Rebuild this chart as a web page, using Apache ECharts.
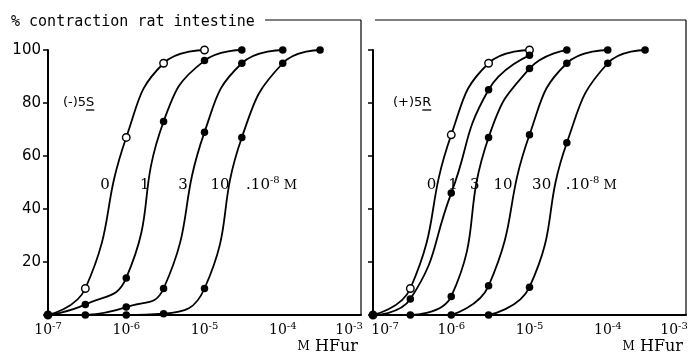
<!DOCTYPE html>
<html><head><meta charset="utf-8">
<script src="https://cdn.jsdelivr.net/npm/echarts@6/dist/echarts.min.js"></script>
<style>html,body{margin:0;padding:0;background:#fff}#c{width:688px;height:357px}</style>
</head><body><div id="c"></div>
<script>
// ---- Data: % contraction of rat intestine vs molar HFur concentration ----
// Left panel: (-)5S, antagonist concentrations 0, 1, 3, 10 x 10^-8 M
const leftConc0  = [1e-7, 3e-7, 1e-6, 3e-6, 1e-5];
const leftResp0  = [0, 10, 67, 95, 100];
const leftConc1  = [1e-7, 3e-7, 1e-6, 3e-6, 1e-5, 3e-5];
const leftResp1  = [0, 4, 14, 73, 96, 100];
const leftConc3  = [3e-7, 1e-6, 3e-6, 1e-5, 3e-5, 1e-4];
const leftResp3  = [0, 3, 10, 69, 95, 100];
const leftConc10 = [1e-6, 3e-6, 1e-5, 3e-5, 1e-4, 3e-4];
const leftResp10 = [0, 0.5, 10, 67, 95, 100];

// Right panel: (+)5R, antagonist concentrations 0, 1, 3, 10, 30 x 10^-8 M
const rightConc0  = [1e-7, 3e-7, 1e-6, 3e-6, 1e-5];
const rightResp0  = [0, 10, 68, 95, 100];
const rightConc1  = [1e-7, 3e-7, 1e-6, 3e-6, 1e-5];
const rightResp1  = [0, 6, 46, 85, 98];
const rightConc3  = [3e-7, 1e-6, 3e-6, 1e-5, 3e-5];
const rightResp3  = [0, 7, 67, 93, 100];
const rightConc10 = [1e-6, 3e-6, 1e-5, 3e-5, 1e-4];
const rightResp10 = [0, 11, 68, 95, 100];
const rightConc30 = [3e-6, 1e-5, 3e-5, 1e-4, 3e-4];
const rightResp30 = [0, 10.5, 65, 95, 100];

const leftCurveNames  = ['0', '1', '3', '10'];
const rightCurveNames = ['0', '1', '3', '10', '30'];
const yTickLabels = [20, 40, 60, 80, 100];
const titleText = '% contraction rat intestine';
const leftPanelName = ['(-)5', 'S'];   // second part underlined
const rightPanelName = ['(+)5', 'R'];

// ---- layout (not data) ----
const leftLabelAnchors  = [5.35e-7, 1.73e-6, 5.3e-6, 1.58e-5];
const rightLabelAnchors = [5.6e-7, 1.05e-6, 2.0e-6, 4.6e-6, 1.43e-5];
const leftUnitAnchor = 3.4e-5, rightUnitAnchor = 2.9e-5, labelLevel = 49;
const frameTopPx = 20;

const pairs = (xs, ys) => xs.map((x, i) => [x, ys[i]]);
const serif = 'DejaVu Serif', sans = 'DejaVu Sans', mono = 'DejaVu Sans Mono';

function curve(name, g, xs, ys, open) {
  return {
    name, type: 'line', xAxisIndex: g, yAxisIndex: g,
    data: pairs(xs, ys), smooth: 0.5,
    symbol: 'circle', symbolSize: 7.5, showAllSymbol: true,
    lineStyle: { color: '#000', width: 1.8 },
    itemStyle: open ? { color: '#fff', borderColor: '#000', borderWidth: 1.4 } : { color: '#000', borderColor: '#000', borderWidth: 0 },
    z: open ? 2 : 3, animation: false
  };
}

function xAxisFor(g, shiftMin) {
  return {
    type: 'log', logBase: 10, min: 1e-7, max: 1e-3, gridIndex: g,
    axisLine: { show: true, onZero: false, lineStyle: { color: '#000', width: 2 } },
    axisTick: { show: false }, splitLine: { show: false },
    axisLabel: {
      color: '#000', margin: 6,
      formatter: v => {
        const e = Math.round(Math.log10(v));
        if (e === -3) return '{b|10}{sr|' + e + '}';
        if (e === -7 && shiftMin) return '{bl|10}{s|' + e + '}';
        return '{b|10}{s|' + e + '}';
      },
      rich: {
        b: { fontFamily: serif, fontSize: 14, color: '#000' },
        bl: { fontFamily: serif, fontSize: 14, color: '#000', padding: [0, 0, 0, 24] },
        s: { fontFamily: serif, fontSize: 10, color: '#000', padding: [0, 0, 8, 0] },
        sr: { fontFamily: serif, fontSize: 10, color: '#000', padding: [0, 24, 8, 0] }
      }
    },
    name: '{m|M} HFur', nameLocation: 'end', nameGap: -3,
    nameTextStyle: {
      align: 'right', verticalAlign: 'top', padding: [24, 0, 0, 0],
      fontFamily: serif, fontSize: 16, color: '#000',
      rich: { m: { fontFamily: serif, fontSize: 12, color: '#000' } }
    }
  };
}
function yAxisFor(g, showLabels) {
  return {
    type: 'value', min: 0, max: 100, interval: 20, gridIndex: g,
    axisLine: { show: true, lineStyle: { color: '#000', width: 2 } },
    axisTick: { show: true, length: 5, lineStyle: { color: '#000', width: 1.5 } },
    splitLine: { show: false },
    axisLabel: {
      show: showLabels, margin: 7, color: '#000', fontFamily: sans, fontSize: 15,
      formatter: v => (yTickLabels.indexOf(v) >= 0 ? String(v) : '')
    }
  };
}

const chart = echarts.init(document.getElementById('c'), null, { renderer: 'canvas' });
const option = {
  backgroundColor: '#fff', animation: false,
  title: { text: titleText, left: 6, top: 10, textStyle: { fontFamily: mono, fontSize: 15, fontWeight: 'normal', color: '#000' } },
  grid: [
    { left: 48, top: 50, width: 313, height: 265, containLabel: false, outerBoundsMode: 'none' },
    { left: 373, top: 50, width: 313, height: 265, containLabel: false, outerBoundsMode: 'none' }
  ],
  xAxis: [xAxisFor(0, false), xAxisFor(1, true)],
  yAxis: [yAxisFor(0, true), yAxisFor(1, false)],
  series: [
    curve('L0', 0, leftConc0, leftResp0, true),
    curve('L1', 0, leftConc1, leftResp1, false),
    curve('L3', 0, leftConc3, leftResp3, false),
    curve('L10', 0, leftConc10, leftResp10, false),
    curve('R0', 1, rightConc0, rightResp0, true),
    curve('R1', 1, rightConc1, rightResp1, false),
    curve('R3', 1, rightConc3, rightResp3, false),
    curve('R10', 1, rightConc10, rightResp10, false),
    curve('R30', 1, rightConc30, rightResp30, false)
  ]
};
chart.setOption(option);

// ---- annotations placed through the axes' scales ----
const P = (g, x, y) => chart.convertToPixel({ gridIndex: g }, [x, y]);
const gfx = [];
const line = (x1, y1, x2, y2, w) => gfx.push({ type: 'line', shape: { x1, y1, x2, y2 }, style: { stroke: '#000', lineWidth: w || 1.2 } });
function txt(g, x, y, text, align, font) {
  const p = P(g, x, y);
  gfx.push({ type: 'text', x: p[0], y: p[1], style: { text, fill: '#000', font: font || ('15px "' + serif + '"'), align: align || 'center', verticalAlign: 'middle' } });
}
function unit(g, x, y) {
  const p = P(g, x, y);
  gfx.push({ type: 'text', x: p[0], y: p[1], style: {
    text: '{a|.10}{s|-8}{m| M}', align: 'left', verticalAlign: 'middle',
    rich: {
      a: { font: '15px "' + serif + '"', fill: '#000' },
      s: { font: '10px "' + serif + '"', fill: '#000', padding: [0, 0, 9, 0] },
      m: { font: '13px "' + serif + '"', fill: '#000' }
    } } });
}
const measureCtx = document.createElement('canvas').getContext('2d');
function panelName(g, x, y, parts) {
  const font = '13px "' + sans + '"';
  const p = P(g, x, y);
  measureCtx.font = font;
  const w0 = measureCtx.measureText(parts[0]).width;
  const w1 = measureCtx.measureText(parts[1]).width;
  gfx.push({ type: 'text', x: p[0], y: p[1], style: { text: parts[0] + parts[1], fill: '#000', font, align: 'left', verticalAlign: 'middle' } });
  line(p[0] + w0, p[1] + 7, p[0] + w0 + w1, p[1] + 7, 1.3);
}
leftCurveNames.forEach((n, i) => txt(0, leftLabelAnchors[i], labelLevel, n));
rightCurveNames.forEach((n, i) => txt(1, rightLabelAnchors[i], labelLevel, n));
unit(0, leftUnitAnchor, labelLevel);
unit(1, rightUnitAnchor, labelLevel);
panelName(0, 1.55e-7, 80, leftPanelName);
panelName(1, 1.8e-7, 80, rightPanelName);

// frame lines (top and right side of each panel)
const l0 = P(0, 1e-3, 0), r0a = P(1, 1e-7, 0), r1 = P(1, 1e-3, 0);
line(265, frameTopPx, l0[0], frameTopPx);
line(l0[0], frameTopPx, l0[0], l0[1]);
line(r0a[0] + 2, frameTopPx, r1[0], frameTopPx);
line(r1[0], frameTopPx, r1[0], r1[1]);
chart.setOption({ graphic: gfx });
</script></body></html>
